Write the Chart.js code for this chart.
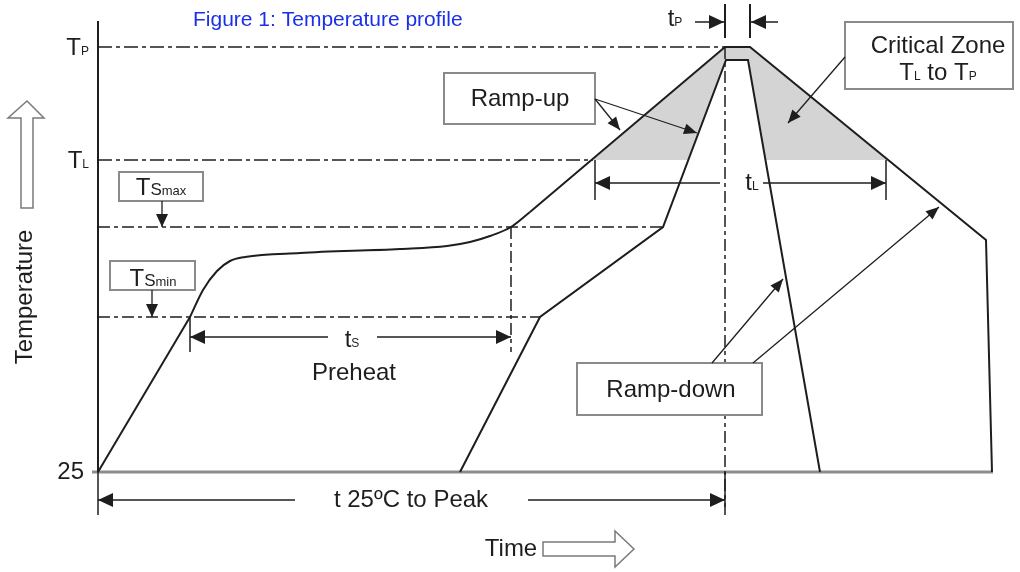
<!DOCTYPE html>
<html>
<head>
<meta charset="utf-8">
<script src="https://cdn.jsdelivr.net/npm/chart.js@4/dist/chart.umd.min.js"></script>
<style>
html, body { margin: 0; padding: 0; background: #fff; }
</style>
</head>
<body>
<canvas id="canvas" width="1020" height="572"></canvas>
<script>
// reflow profile
// time: arbitrary units from start, temp: diagram units (25 = ambient)
var rampTime = [0, 92];
var rampTemp = [25, 180];
var soakTime = [92, 105, 119, 132, 147, 202, 302, 349, 372, 392, 413, 432];
var soakTemp = [180, 207, 226, 236, 240, 244, 248, 251, 255, 261, 270, 285];
var peakTime = [432, 627, 652, 888, 894];
var peakTemp = [285, 450, 450, 257, 25];
var fastTime = [362, 442, 565, 628, 650, 722];
var fastTemp = [25, 180, 270, 437, 437, 25];

// critical zone, TL to TP
var zoneTime = [495, 627, 652, 790];
var zoneTemp = [337, 450, 450, 337];
var zoneInTime = [590, 628, 650, 667];
var zoneInTemp = [337, 437, 437, 337];

// temperature levels and where their guide lines stop
var levelTemp = [25, 180, 270, 337, 450];
var levelEnd = [0, 442, 565, 495, 627];
var levelDash = [[], [12, 4, 4, 4], [12, 4, 4, 4], [14, 4, 4, 4], [14, 4, 4, 4]];

var tsStart = 92, tsEnd = 413;
var tLStart = 497, tLEnd = 788;
var tPStart = 627, tPEnd = 652;

var FONT = "'Liberation Sans', Arial, sans-serif";
var INK = '#1e1e1e';

function pts(xs, ys) {
    return xs.map(function(x, i) { return {x: x, y: ys[i]}; });
}

function lineSet(data, extra) {
    var d = {
        data: data,
        borderColor: INK,
        borderWidth: 2,
        pointRadius: 0,
        tension: 0,
        fill: false
    };
    for (var k in extra) d[k] = extra[k];
    return d;
}

var datasets = [
    lineSet(pts(rampTime, rampTemp)),
    lineSet(pts(soakTime, soakTemp), {cubicInterpolationMode: 'monotone'}),
    lineSet(pts(peakTime, peakTemp)),
    lineSet(pts(fastTime, fastTemp))
];
for (var i = 1; i < levelTemp.length; i++) {
    datasets.push(lineSet(pts([0, levelEnd[i]], [levelTemp[i], levelTemp[i]]),
        {borderWidth: 1.5, borderDash: levelDash[i]}));
}
datasets.push(lineSet(pts([tsEnd, tsEnd], [270, 145]), {borderWidth: 1.5, borderDash: [12, 4, 4, 4]}));
datasets.push(lineSet(pts([tPStart, tPStart], [450, -10]), {borderWidth: 1.5, borderDash: [12, 4, 4, 4]}));
// shaded zone (drawn first: last in list)
datasets.push({
    data: pts(zoneInTime, zoneInTemp), borderColor: 'rgba(0,0,0,0)', borderWidth: 0,
    pointRadius: 0, tension: 0, fill: {value: 337}, backgroundColor: '#ffffff'
});
datasets.push({
    data: pts(zoneTime, zoneTemp), borderColor: 'rgba(0,0,0,0)', borderWidth: 0,
    pointRadius: 0, tension: 0, fill: {value: 337}, backgroundColor: '#d4d4d4'
});

function head(ctx, x1, y1, x2, y2, len, half) {
    var a = Math.atan2(y2 - y1, x2 - x1);
    var c = Math.cos(a), s = Math.sin(a);
    ctx.beginPath();
    ctx.moveTo(x2, y2);
    ctx.lineTo(x2 - len * c + half * s, y2 - len * s - half * c);
    ctx.lineTo(x2 - len * c - half * s, y2 - len * s + half * c);
    ctx.closePath();
    ctx.fill();
}

function arrow(ctx, x1, y1, x2, y2, len, half) {
    ctx.beginPath();
    ctx.moveTo(x1, y1);
    ctx.lineTo(x2, y2);
    ctx.stroke();
    head(ctx, x1, y1, x2, y2, len, half);
}

function seg(ctx, x1, y1, x2, y2) {
    ctx.beginPath();
    ctx.moveTo(x1, y1);
    ctx.lineTo(x2, y2);
    ctx.stroke();
}

// text made of runs of different sizes, on one baseline
function rich(ctx, parts, x, y, align) {
    var w = 0;
    parts.forEach(function(p) {
        ctx.font = p[1] + 'px ' + FONT;
        w += ctx.measureText(p[0]).width;
    });
    var cx = align === 'center' ? x - w / 2 : (align === 'right' ? x - w : x);
    ctx.textAlign = 'left';
    ctx.textBaseline = 'alphabetic';
    parts.forEach(function(p) {
        ctx.font = p[1] + 'px ' + FONT;
        ctx.fillText(p[0], cx, y);
        cx += ctx.measureText(p[0]).width;
    });
}

var diagram = {
    id: 'diagram',
    beforeDatasetsDraw: function(chart) {
        var ctx = chart.ctx, xs = chart.scales.x, ys = chart.scales.y;
        var X = function(v) { return xs.getPixelForValue(v); };
        var Y = function(v) { return ys.getPixelForValue(v); };
        ctx.save();
        ctx.strokeStyle = '#8c8c8c';
        ctx.lineWidth = 3;
        seg(ctx, X(-6), Y(25), X(895), Y(25));
        ctx.strokeStyle = INK;
        ctx.lineWidth = 2;
        seg(ctx, X(0), Y(476), X(0), Y(25));
        ctx.restore();
    },
    afterDatasetsDraw: function(chart) {
        var ctx = chart.ctx, xs = chart.scales.x, ys = chart.scales.y;
        var X = function(v) { return xs.getPixelForValue(v); };
        var Y = function(v) { return ys.getPixelForValue(v); };
        ctx.save();

        // title
        ctx.fillStyle = '#1a2fe8';
        ctx.font = '21px ' + FONT;
        ctx.textAlign = 'left';
        ctx.textBaseline = 'alphabetic';
        ctx.fillText('Figure 1: Temperature profile', X(95), Y(471));

        ctx.fillStyle = INK;
        ctx.strokeStyle = INK;

        // y labels
        rich(ctx, [['T', 24], ['P', 12]], X(-9), Y(442), 'right');
        rich(ctx, [['T', 24], ['L', 12]], X(-9), Y(329), 'right');
        ctx.font = '24px ' + FONT;
        ctx.textAlign = 'right';
        ctx.textBaseline = 'middle';
        ctx.fillText('25', X(-14), Y(25));

        // boxes
        function box(x1, y1, x2, y2) {
            ctx.fillStyle = '#fff';
            ctx.fillRect(X(x1), Y(y1), X(x2) - X(x1), Y(y2) - Y(y1));
            ctx.strokeStyle = '#8a8a8a';
            ctx.lineWidth = 2;
            ctx.strokeRect(X(x1), Y(y1), X(x2) - X(x1), Y(y2) - Y(y1));
            ctx.fillStyle = INK;
            ctx.strokeStyle = INK;
        }
        box(21, 325, 105, 296);
        box(12, 236, 97, 207);
        box(346, 424, 497, 373);
        box(479, 134, 664, 82);
        box(747, 475, 915, 408);

        ctx.fillStyle = INK;
        rich(ctx, [['T', 24], ['S', 17], ['max', 13]], X(63), Y(302), 'center');
        rich(ctx, [['T', 24], ['S', 17], ['min', 13]], X(55), Y(211), 'center');
        rich(ctx, [['Ramp-up', 24]], X(422), Y(391), 'center');
        rich(ctx, [['Ramp-down', 24]], X(573), Y(100), 'center');
        rich(ctx, [['Critical Zone', 24]], X(840), Y(444), 'center');
        rich(ctx, [['T', 24], ['L', 12], [' to T', 24], ['P', 12]], X(840), Y(417), 'center');

        // callout arrows
        ctx.lineWidth = 1.3;
        arrow(ctx, X(64), Y(296), X(64), Y(270), 13, 6);
        arrow(ctx, X(54), Y(207), X(54), Y(180), 13, 6);
        arrow(ctx, X(497), Y(398), X(522), Y(367), 13, 5.5);
        arrow(ctx, X(497), Y(398), X(599), Y(364), 13, 5.5);
        arrow(ctx, X(614), Y(134), X(685), Y(218), 13, 5.5);
        arrow(ctx, X(655), Y(134), X(841), Y(290), 13, 5.5);
        arrow(ctx, X(747), Y(440), X(690), Y(374), 13, 5.5);

        // dimension arrows
        ctx.lineWidth = 1.5;
        seg(ctx, X(tsStart), Y(180), X(tsStart), Y(145));
        arrow(ctx, X(230), Y(160), X(tsStart), Y(160), 15, 7);
        arrow(ctx, X(279), Y(160), X(tsEnd), Y(160), 15, 7);
        rich(ctx, [['t', 24], ['S', 12]], X(254), Y(150), 'center');
        rich(ctx, [['Preheat', 24]], X(256), Y(117), 'center');

        seg(ctx, X(tLStart), Y(337), X(tLStart), Y(297));
        seg(ctx, X(tLEnd), Y(337), X(tLEnd), Y(297));
        arrow(ctx, X(622), Y(314), X(tLStart), Y(314), 15, 7);
        arrow(ctx, X(665), Y(314), X(tLEnd), Y(314), 15, 7);
        rich(ctx, [['t', 24], ['L', 12]], X(654), Y(307), 'center');

        ctx.lineWidth = 2;
        seg(ctx, X(tPStart), Y(493), X(tPStart), Y(459));
        seg(ctx, X(tPEnd), Y(493), X(tPEnd), Y(459));
        ctx.lineWidth = 1.5;
        arrow(ctx, X(597), Y(475), X(tPStart - 1), Y(475), 15, 7);
        arrow(ctx, X(680), Y(475), X(tPEnd + 1), Y(475), 15, 7);
        rich(ctx, [['t', 24], ['P', 12]], X(577), Y(471), 'center');

        seg(ctx, X(0), Y(25), X(0), Y(-18));
        seg(ctx, X(tPStart), Y(25), X(tPStart), Y(-18));
        arrow(ctx, X(197), Y(-3), X(0), Y(-3), 15, 7);
        arrow(ctx, X(430), Y(-3), X(tPStart), Y(-3), 15, 7);
        ctx.font = '24px ' + FONT;
        ctx.textAlign = 'center';
        ctx.textBaseline = 'middle';
        ctx.fillText('t 25\u00baC to Peak', X(313), Y(-3));

        // axis titles with hollow arrows
        ctx.fillText('Time', X(413), Y(-52));
        ctx.save();
        ctx.translate(X(-73), Y(200));
        ctx.rotate(-Math.PI / 2);
        ctx.fillText('Temperature', 0, 0);
        ctx.restore();

        ctx.strokeStyle = '#7a7a7a';
        ctx.lineWidth = 1.5;
        ctx.fillStyle = '#fff';
        ctx.beginPath();
        ctx.moveTo(X(445), Y(-45));
        ctx.lineTo(X(517), Y(-45));
        ctx.lineTo(X(517), Y(-34));
        ctx.lineTo(X(536), Y(-52));
        ctx.lineTo(X(517), Y(-70));
        ctx.lineTo(X(517), Y(-59));
        ctx.lineTo(X(445), Y(-59));
        ctx.closePath();
        ctx.fill();
        ctx.stroke();

        ctx.beginPath();
        ctx.moveTo(X(-77), Y(289));
        ctx.lineTo(X(-77), Y(379));
        ctx.lineTo(X(-90), Y(379));
        ctx.lineTo(X(-71), Y(396));
        ctx.lineTo(X(-54), Y(379));
        ctx.lineTo(X(-65), Y(379));
        ctx.lineTo(X(-65), Y(289));
        ctx.closePath();
        ctx.fill();
        ctx.stroke();

        ctx.restore();
    }
};

var ctx = document.getElementById('canvas').getContext('2d');
var chart = new Chart(ctx, {
    type: 'line',
    data: {datasets: datasets},
    options: {
        responsive: false,
        animation: false,
        devicePixelRatio: 1,
        layout: {padding: 0},
        scales: {
            x: {type: 'linear', min: -98, max: 922, display: false},
            y: {type: 'linear', min: -75, max: 497, display: false}
        },
        plugins: {
            legend: {display: false},
            tooltip: {enabled: false},
            title: {display: false}
        }
    },
    plugins: [diagram]
});
</script>
</body>
</html>
